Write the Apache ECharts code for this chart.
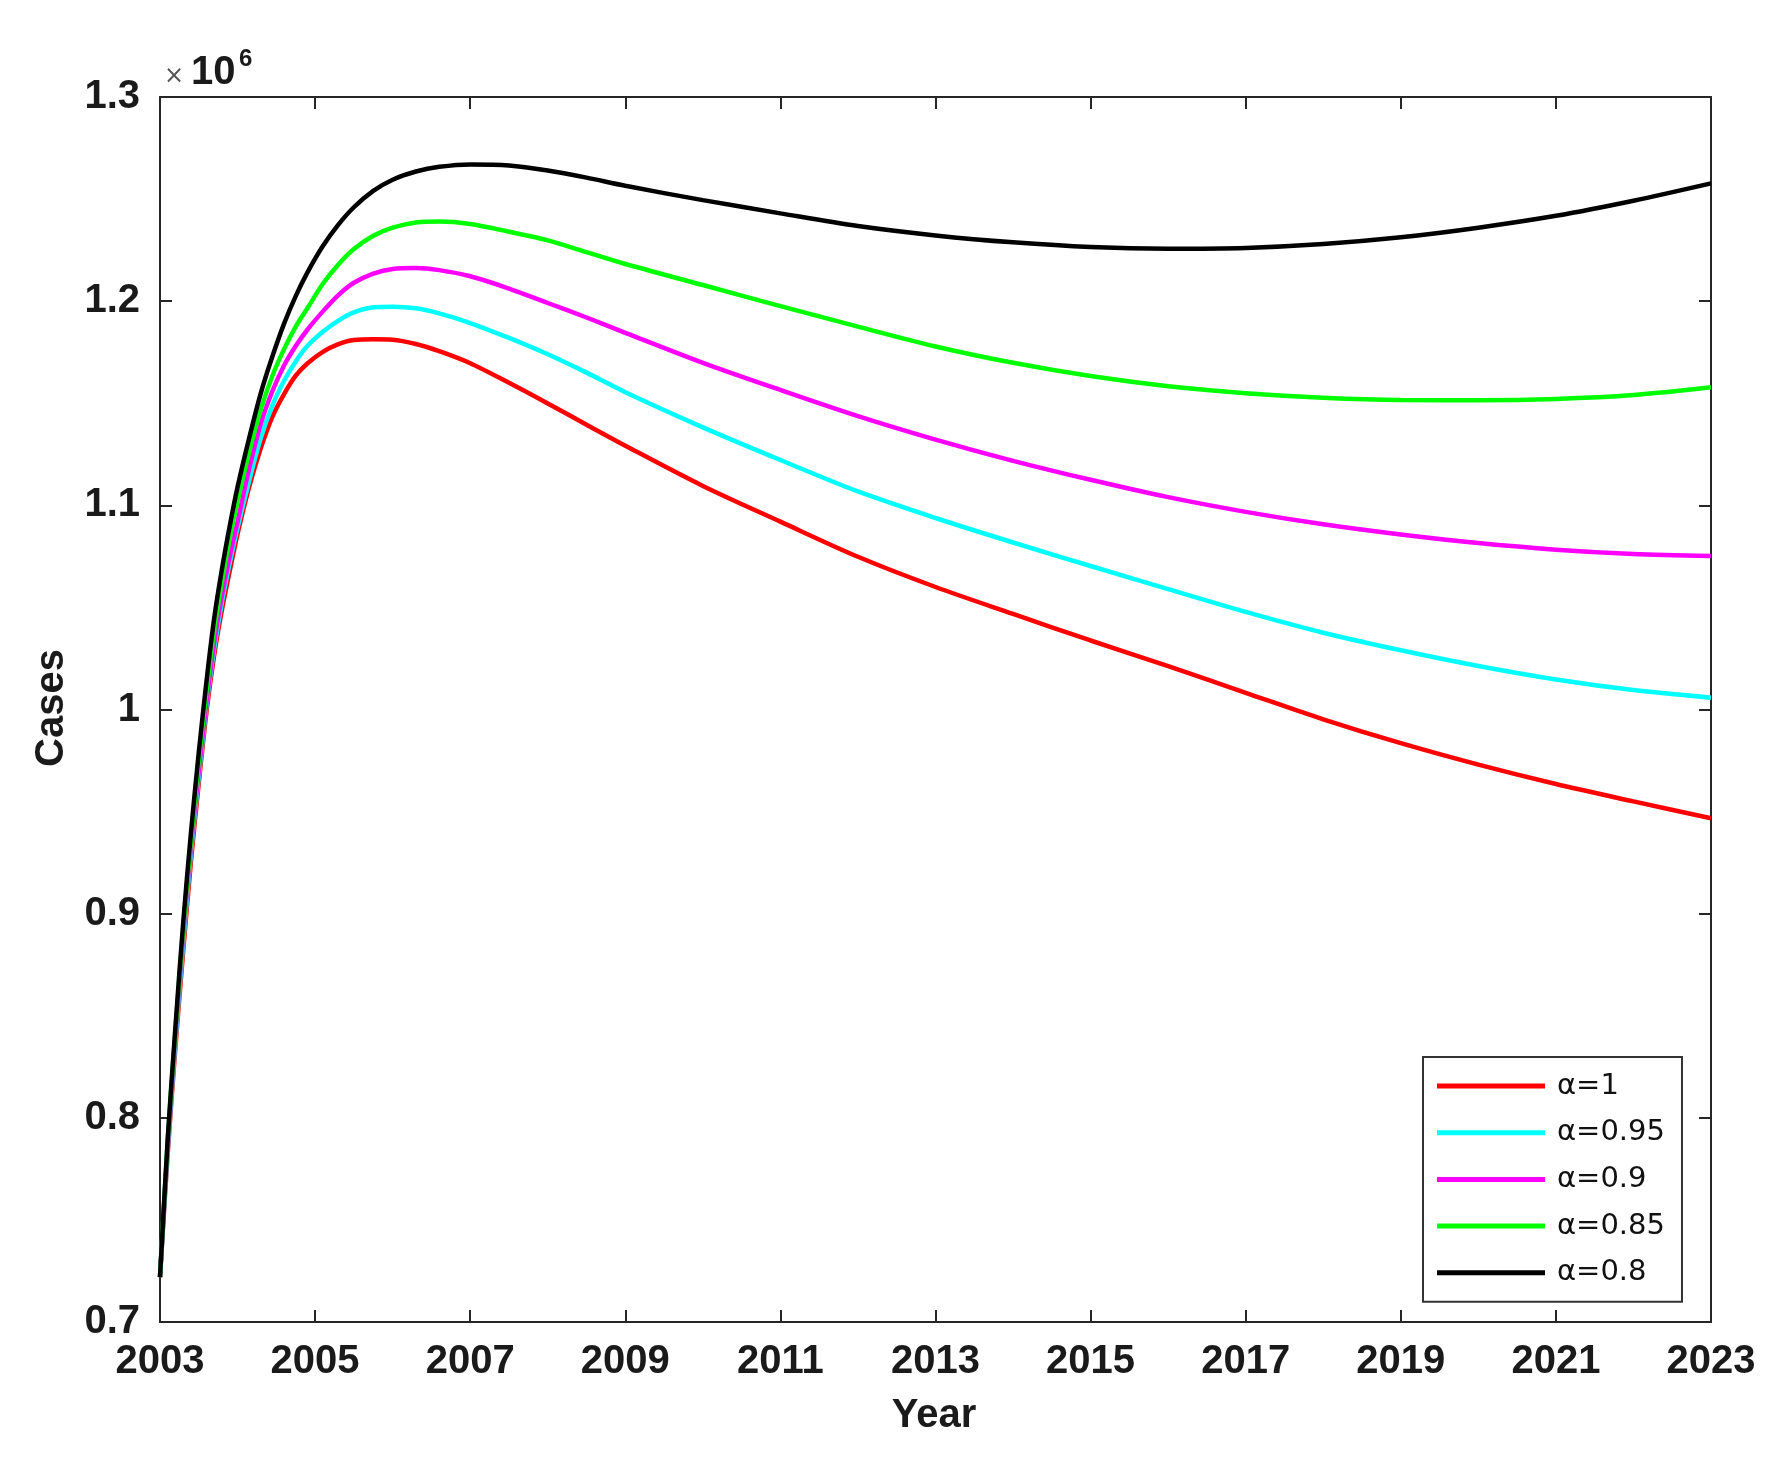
<!DOCTYPE html>
<html>
<head>
<meta charset="utf-8">
<script src="https://cdn.jsdelivr.net/npm/echarts@6/dist/echarts.min.js"></script>
<style>
  html, body { margin: 0; padding: 0; background: #fff; }
  #chart { width: 1777px; height: 1465px; }
</style>
</head>
<body>
<div id="chart"></div>
<script>
// ---- data (values in units of 10^6 cases) ----
const years = [2003, 2003.1, 2003.2, 2003.3, 2003.4, 2003.5, 2003.6, 2003.7, 2003.8, 2003.9,
  2004, 2004.15, 2004.3, 2004.45, 2004.6, 2004.75, 2004.9, 2005.1, 2005.3, 2005.5, 2005.75,
  2006, 2006.3, 2006.6, 2007, 2007.5, 2008, 2008.5, 2009, 2010, 2011, 2012, 2013, 2014,
  2015, 2016, 2017, 2018, 2019, 2020, 2021, 2022, 2023];

const alpha1 = [0.722, 0.783, 0.835, 0.882, 0.926, 0.964, 0.999, 1.027, 1.049, 1.068,
  1.086, 1.109, 1.128, 1.1435, 1.1545, 1.1635, 1.1695, 1.1752, 1.179, 1.181, 1.1813,
  1.1811, 1.179, 1.1755, 1.1696, 1.160, 1.1499, 1.1395, 1.1292, 1.1095, 1.092, 1.0748, 1.0600, 1.0468,
  1.0338, 1.0212, 1.0082, 0.9952, 0.9835, 0.9730, 0.9635, 0.9550, 0.9467];

const alpha095 = [0.722, 0.785, 0.838, 0.886, 0.930, 0.967, 1.002, 1.030, 1.053, 1.072,
  1.089, 1.112, 1.133, 1.149, 1.161, 1.1705, 1.178, 1.185, 1.1905, 1.1945, 1.197,
  1.1973, 1.1965, 1.194, 1.1893, 1.182, 1.174, 1.165, 1.1554, 1.1382, 1.1222, 1.1068, 1.0938, 1.0818,
  1.0703, 1.0590, 1.0478, 1.0376, 1.0290, 1.0213, 1.0147, 1.0095, 1.0058];

const alpha09 = [0.722, 0.787, 0.841, 0.890, 0.933, 0.970, 1.004, 1.033, 1.056, 1.075,
  1.092, 1.118, 1.140, 1.156, 1.1685, 1.178, 1.186, 1.195, 1.203, 1.209, 1.2135,
  1.2158, 1.2162, 1.2152, 1.2122, 1.2062, 1.1991, 1.192, 1.1845, 1.1698, 1.1565, 1.1437, 1.1322, 1.1218,
  1.1125, 1.1040, 1.0968, 1.0907, 1.0857, 1.0815, 1.0783, 1.0762, 1.0752];

const alpha085 = [0.722, 0.789, 0.843, 0.893, 0.936, 0.975, 1.009, 1.039, 1.063, 1.084,
  1.102, 1.126, 1.147, 1.1635, 1.1765, 1.1875, 1.1965, 1.2085, 1.218, 1.2255, 1.232,
  1.236, 1.2385, 1.239, 1.2378, 1.234, 1.2298, 1.224, 1.2182, 1.2079, 1.1976, 1.1875, 1.1778, 1.1698,
  1.1633, 1.1583, 1.1549, 1.1527, 1.1516, 1.1515, 1.1521, 1.1540, 1.1578];

const alpha08 = [0.722, 0.790, 0.845, 0.896, 0.940, 0.979, 1.014, 1.045, 1.069, 1.090,
  1.109, 1.133, 1.155, 1.173, 1.189, 1.2025, 1.214, 1.227, 1.2375, 1.246, 1.254,
  1.2595, 1.2635, 1.2658, 1.267, 1.2665, 1.264, 1.2605, 1.2565, 1.2495, 1.243, 1.2368, 1.2322, 1.2288,
  1.2265, 1.2257, 1.2261, 1.2280, 1.2313, 1.2360, 1.2418, 1.2492, 1.2577];

const seriesNames = ['α=1', 'α=0.95', 'α=0.9', 'α=0.85', 'α=0.8'];
const seriesValues = [alpha1, alpha095, alpha09, alpha085, alpha08];
const seriesColors = ['#ff0000', '#00ffff', '#ff00ff', '#00ff00', '#000000'];

const xTicks = { min: 2003, max: 2023, interval: 2 };
const yTicks = { min: 0.7, max: 1.3, interval: 0.1 };

// ---- chart ----
const axisColor = '#262626';
const tickFont = { fontFamily: 'Liberation Sans', fontWeight: 'bold', fontSize: 40, color: '#1a1a1a' };

const chart = echarts.init(document.getElementById('chart'), null, { renderer: 'canvas' });

const series = seriesNames.map((name, k) => ({
  name: name,
  type: 'line',
  data: years.map((x, i) => [x, seriesValues[k][i]]),
  showSymbol: false,
  smooth: 0.3,
  lineStyle: { color: seriesColors[k], width: 4.5 },
  itemStyle: { color: seriesColors[k] },
  emphasis: { disabled: true },
  animation: false,
  z: 2 + k
}));

const baseX = {
  type: 'value', min: xTicks.min, max: xTicks.max, interval: xTicks.interval,
  axisLine: { show: true, onZero: false, lineStyle: { color: axisColor, width: 2 } },
  axisTick: { show: true, inside: true, length: 12, lineStyle: { color: axisColor, width: 2 } },
  splitLine: { show: false }
};
const baseY = {
  type: 'value', min: yTicks.min, max: yTicks.max, interval: yTicks.interval,
  axisLine: { show: true, onZero: false, lineStyle: { color: axisColor, width: 2 } },
  axisTick: { show: true, inside: true, length: 12, lineStyle: { color: axisColor, width: 2 } },
  splitLine: { show: false }
};

chart.setOption({
  backgroundColor: '#ffffff',
  animation: false,
  grid: { left: 160, right: 66, top: 97, bottom: 143, containLabel: false },
  xAxis: [
    Object.assign({}, baseX, {
      position: 'bottom',
      axisLabel: Object.assign({ formatter: v => String(v), margin: 20 }, tickFont)
    }),
    Object.assign({}, baseX, { position: 'top', axisLabel: { show: false } })
  ],
  yAxis: [
    Object.assign({}, baseY, {
      position: 'left',
      axisLabel: Object.assign({ formatter: v => String(Math.round(v * 10) / 10), margin: 20 }, tickFont)
    }),
    Object.assign({}, baseY, { position: 'right', axisLabel: { show: false } })
  ],
  legend: {
    orient: 'vertical',
    left: 1423, top: 1057,
    padding: [14, 17, 14, 14],
    itemWidth: 108, itemHeight: 5, itemGap: 16.7,
    icon: 'rect',
    selectedMode: false,
    borderColor: '#333333', borderWidth: 2, backgroundColor: '#ffffff',
    textStyle: { fontFamily: 'DejaVu Sans', fontSize: 29, lineHeight: 30, color: '#111', padding: [0, 0, 0, 7] },
    data: seriesNames
  },
  graphic: [
    { type: 'text', x: 934, y: 1416, style: { text: 'Year', textAlign: 'center', textVerticalAlign: 'middle', font: 'bold 40px "Liberation Sans"', fill: '#1a1a1a' } },
    { type: 'text', x: 52, y: 708, rotation: Math.PI / 2, style: { text: 'Cases', textAlign: 'center', textVerticalAlign: 'middle', font: 'bold 40px "Liberation Sans"', fill: '#1a1a1a' } },
    { type: 'text', x: 174, y: 77, style: { text: '×', textAlign: 'center', textVerticalAlign: 'middle', font: '24px "DejaVu Sans"', fill: '#555' } },
    { type: 'text', x: 191, y: 73, style: { text: '10', textAlign: 'left', textVerticalAlign: 'middle', font: 'bold 40px "Liberation Sans"', fill: '#1a1a1a' } },
    { type: 'text', x: 239, y: 59, style: { text: '6', textAlign: 'left', textVerticalAlign: 'middle', font: 'bold 24px "Liberation Sans"', fill: '#1a1a1a' } }
  ],
  series: series
});
</script>
</body>
</html>
